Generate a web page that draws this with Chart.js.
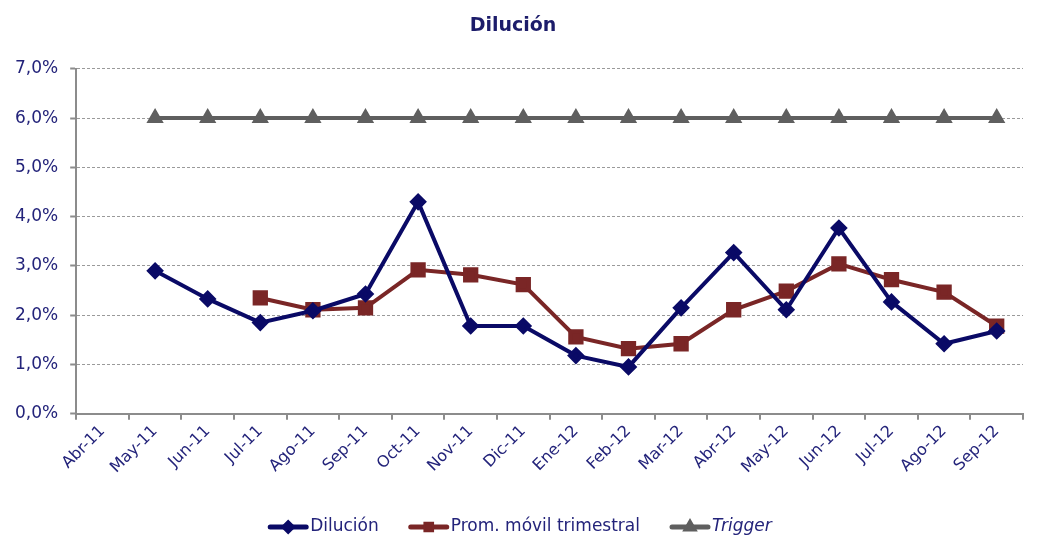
<!DOCTYPE html>
<html>
<head>
<meta charset="utf-8">
<script src="https://cdn.jsdelivr.net/npm/chart.js@4.4.1/dist/chart.umd.min.js"></script>
<style>
    html, body { margin: 0; padding: 0; background: #fff; }
    #wrap { width: 1051px; height: 559px; }
</style>
</head>
<body>
<div id="wrap"><canvas id="dilucionChart" width="1051" height="559"></canvas></div>
<script>
// Chart data (percent values)
const months = ['Abr-11', 'May-11', 'Jun-11', 'Jul-11', 'Ago-11', 'Sep-11', 'Oct-11', 'Nov-11', 'Dic-11',
    'Ene-12', 'Feb-12', 'Mar-12', 'Abr-12', 'May-12', 'Jun-12', 'Jul-12', 'Ago-12', 'Sep-12'];
const dilucion = [null, 2.90, 2.33, 1.85, 2.09, 2.43, 4.30, 1.78, 1.78,
    1.18, 0.95, 2.15, 3.27, 2.11, 3.77, 2.27, 1.42, 1.68];
const promMovil = [null, null, null, 2.35, 2.11, 2.15, 2.92, 2.82, 2.62,
    1.56, 1.32, 1.42, 2.11, 2.49, 3.04, 2.72, 2.47, 1.78];
const trigger = [null, 6, 6, 6, 6, 6, 6, 6, 6, 6, 6, 6, 6, 6, 6, 6, 6, 6];
const yTicks = [0, 1, 2, 3, 4, 5, 6, 7];

const textColor = '#23237a';
const axisColor = '#8c8c8c';
const fontFamily = 'Tahoma, "DejaVu Sans", Verdana, sans-serif';

// Legend drawn by hand: line + marker, "Trigger" in italics
const bottomLegend = {
    id: 'bottomLegend',
    afterDraw(chart) {
        const ctx = chart.ctx;
        const items = chart.data.datasets.map(ds => ({
            text: ds.label,
            color: ds.borderColor,
            style: ds.pointStyle,
            italic: ds.label === 'Trigger'
        }));
        const lineW = 40, gap = 2, spacing = 30, y = 527;
        ctx.save();
        let total = 0;
        items.forEach(it => {
            ctx.font = (it.italic ? 'italic ' : '') + '17px ' + fontFamily;
            it.w = ctx.measureText(it.text).width;
            total += lineW + gap + it.w;
        });
        total += spacing * (items.length - 1);
        let x = 520 - total / 2;
        items.forEach(it => {
            ctx.strokeStyle = it.color;
            ctx.lineWidth = 5;
            ctx.lineCap = 'round';
            ctx.beginPath();
            ctx.moveTo(x + 2, y);
            ctx.lineTo(x + lineW - 2, y);
            ctx.stroke();
            Chart.helpers.drawPoint(ctx, {
                pointStyle: it.style, radius: 4, rotation: 0, borderWidth: 1
            }, x + lineW / 2, y);
            ctx.fillStyle = it.color;
            ctx.fill();
            ctx.font = (it.italic ? 'italic ' : '') + '17px ' + fontFamily;
            ctx.fillStyle = textColor;
            ctx.textBaseline = 'middle';
            ctx.textAlign = 'left';
            ctx.fillText(it.text, x + lineW + gap, y);
            x += lineW + gap + it.w + spacing;
        });
        ctx.restore();
    }
};

const ctx = document.getElementById('dilucionChart').getContext('2d');
new Chart(ctx, {
    type: 'line',
    data: {
        labels: months,
        datasets: [
            {
                label: 'Dilución',
                data: dilucion,
                borderColor: '#0a0a66',
                backgroundColor: '#0a0a66',
                borderWidth: 4,
                pointStyle: 'rectRot',
                pointRadius: 6,
                tension: 0
            },
            {
                label: 'Prom. móvil trimestral',
                data: promMovil,
                borderColor: '#7a2626',
                backgroundColor: '#7a2626',
                borderWidth: 4,
                pointStyle: 'rect',
                pointRadius: 8,
                tension: 0
            },
            {
                label: 'Trigger',
                data: trigger,
                borderColor: '#5f5f5f',
                backgroundColor: '#5f5f5f',
                borderWidth: 4,
                pointStyle: 'triangle',
                pointRadius: 6,
                tension: 0
            }
        ]
    },
    options: {
        responsive: false,
        animation: false,
        devicePixelRatio: 1,
        layout: {
            padding: { left: 3, right: 28, top: 6, bottom: 80 }
        },
        plugins: {
            legend: { display: false },
            tooltip: { enabled: false },
            title: {
                display: true,
                text: 'Dilución',
                color: '#1c1c6a',
                font: { family: fontFamily, size: 19, weight: 'bold' },
                padding: { top: 9, bottom: 31 }
            }
        },
        scales: {
            y: {
                min: 0,
                max: 7,
                afterBuildTicks: axis => {
                    axis.ticks = yTicks.map(v => ({ value: v }));
                },
                ticks: {
                    color: textColor,
                    font: { family: fontFamily, size: 17 },
                    padding: 12,
                    callback: v => v.toFixed(1).replace('.', ',') + '%'
                },
                grid: {
                    color: '#9a9a9a',
                    lineWidth: 1,
                    tickLength: 6,
                    tickColor: axisColor,
                    tickBorderDash: [],
                    tickWidth: 2
                },
                border: { display: true, color: axisColor, width: 2, dash: [3, 2] }
            },
            x: {
                offset: true,
                ticks: {
                    color: textColor,
                    font: { family: fontFamily, size: 16 },
                    minRotation: 45,
                    maxRotation: 45,
                    autoSkip: false,
                    padding: 2
                },
                grid: {
                    offset: true,
                    drawOnChartArea: false,
                    tickLength: 6,
                    color: axisColor,
                    lineWidth: 2
                },
                border: { display: true, color: axisColor, width: 2 }
            }
        }
    },
    plugins: [bottomLegend]
});
</script>
</body>
</html>
